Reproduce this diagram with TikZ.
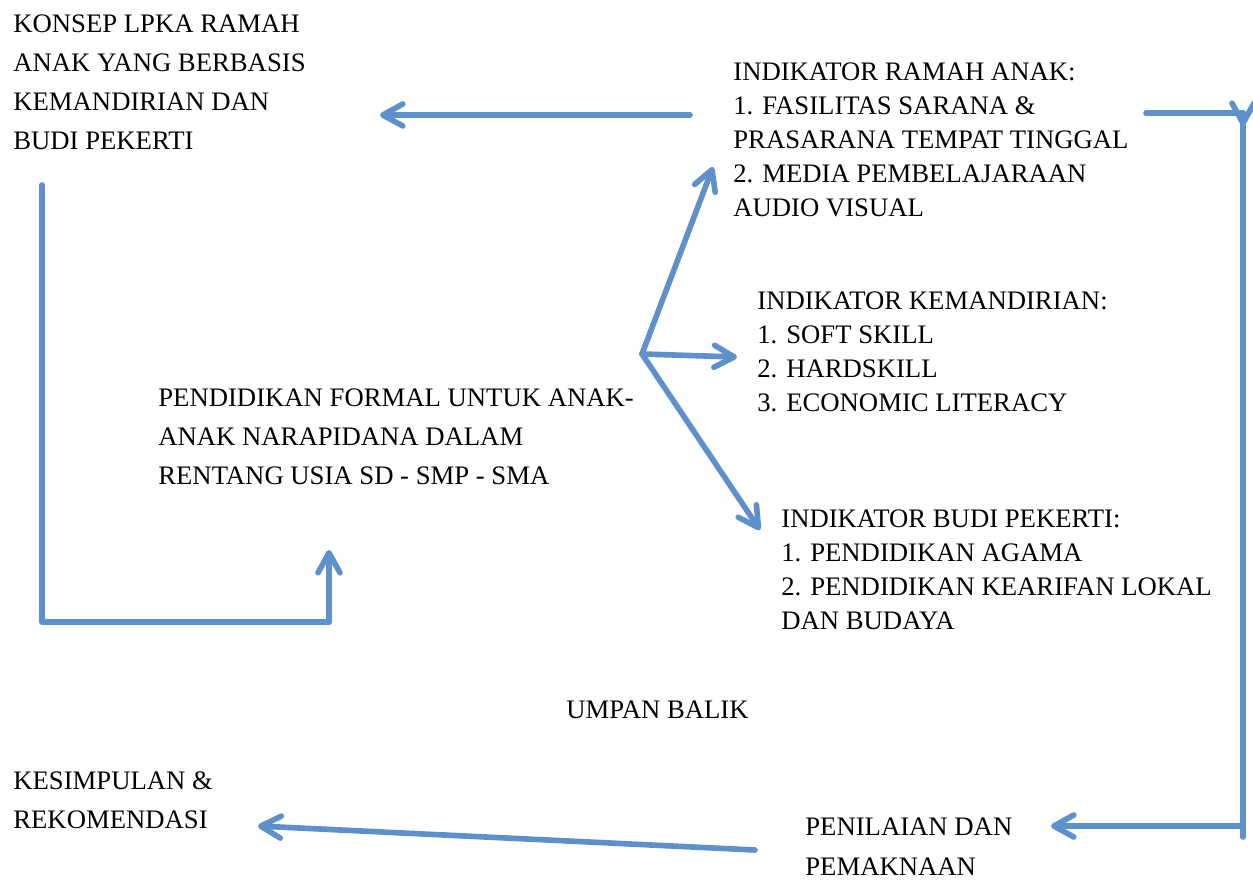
\documentclass[tikz,border=0pt]{standalone}
\usepackage{fontspec}
\setmainfont{Liberation Serif}
\usepackage{xcolor}
\usetikzlibrary{arrows.meta, positioning}
\definecolor{flowblue}{RGB}{94,145,203}

\begin{document}
\begin{tikzpicture}[
    x=0.02cm, y=-0.02cm,
    textblock/.style={anchor=north west, inner sep=0pt, align=left,
        font=\fontsize{15.2}{19.4}\selectfont},
    wideblock/.style={textblock, font=\fontsize{15.2}{22.2}\selectfont},
    flow/.style={line width=3.2pt, draw=flowblue, line cap=round, line join=round,
        preaction={draw=black!12, transform canvas={shift={(0.6pt,-1.2pt)}}}},
    arrow/.style={flow, -{Straight Barb[length=4mm, width=4.4mm, line cap=round, line join=round]}}
]
\useasboundingbox (0,0) rectangle (1253,879);

% Text blocks
\node[wideblock] (konsep) at (13,14) {KONSEP LPKA RAMAH\\ANAK YANG BERBASIS\\KEMANDIRIAN DAN\\BUDI PEKERTI};
\node[textblock] (ramah) at (733,62) {INDIKATOR RAMAH ANAK:\\1. FASILITAS SARANA \&\\PRASARANA TEMPAT TINGGAL\\2. MEDIA PEMBELAJARAAN\\AUDIO VISUAL};
\node[textblock] (mandiri) at (757,291) {INDIKATOR KEMANDIRIAN:\\1. SOFT SKILL\\2. HARDSKILL\\3. ECONOMIC LITERACY};
\node[wideblock] (formal) at (158,388) {PENDIDIKAN FORMAL UNTUK ANAK-\\ANAK NARAPIDANA DALAM\\RENTANG USIA SD - SMP - SMA};
\node[textblock] (budi) at (781,509) {INDIKATOR BUDI PEKERTI:\\1. PENDIDIKAN AGAMA\\2. PENDIDIKAN KEARIFAN LOKAL\\DAN BUDAYA};
\node[textblock] (umpan) at (566,701) {UMPAN BALIK};
\node[wideblock] (simpul) at (13,771) {KESIMPULAN \&\\REKOMENDASI};
\node[wideblock] (nilai) at (805,818) {PENILAIAN DAN\\PEMAKNAAN};

% Connector ends
\coordinate (fork) at (642,354);
\coordinate (ramahin) at (713,167);
\coordinate (mandiriin) at (737,357);
\coordinate (budiin) at (760,530);
\coordinate (ramahout) at (690,115);
\coordinate (konsepin) at (380,115);
\coordinate (konsepout) at (42,185);
\coordinate (formalin) at (329,550);
\coordinate (loopstart) at (1146,113);
\coordinate (loopcorner) at (1243,113);
\coordinate (loopdown) at (1243,126);
\coordinate (loopend) at (1243,837);
\coordinate (nilaiin) at (1051,826);
\coordinate (nilaiout) at (755,850);
\coordinate (simpulin) at (258,826);

% Arrows
\draw[arrow] (fork) -- (ramahin);
\draw[arrow] (fork) -- (mandiriin);
\draw[arrow] (fork) -- (budiin);
\draw[arrow] (ramahout) -- (konsepin);
\draw[arrow] (konsepout) |- (formalin |- 0,622) -- (formalin);
\draw[flow] (loopstart) -- (loopcorner) -- (loopend);
\draw[arrow] (loopcorner) -- (loopdown);
\draw[arrow] (loopend |- nilaiin) -- (nilaiin);
\draw[arrow] (nilaiout) -- (simpulin);

\end{tikzpicture}
\end{document}
